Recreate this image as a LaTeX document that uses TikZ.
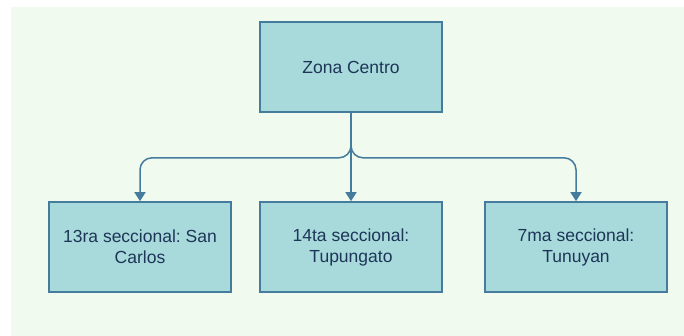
\documentclass[tikz,border=0pt]{standalone}
\usepackage{fontspec}
\setmainfont{Liberation Sans}
\usetikzlibrary{arrows.meta,positioning}

\definecolor{zonabg}{HTML}{F1FAEE}
\definecolor{zonafill}{HTML}{A8DADC}
\definecolor{zonaline}{HTML}{457B9D}
\definecolor{zonatext}{HTML}{1D3557}

\begin{document}
\frenchspacing
\begin{tikzpicture}[x=1pt,y=-1pt,>={Triangle[length=9pt,width=11pt]},
  font=\fontsize{17.5}{21}\selectfont,
  seccional/.style={draw=zonaline,line width=1.6pt,fill=zonafill,text=zonatext,
    minimum width=182pt,minimum height=90pt,align=center,inner sep=0pt},
  enlace/.style={->,draw=zonaline,line width=1.5pt,rounded corners=12pt}]
  \useasboundingbox (0,0) rectangle (684,336);
  \fill[zonabg] (11,7) rectangle (684,336);
  % jefatura y seccionales
  \node[seccional] (zona) at (351,67) {Zona Centro};
  \node[seccional] (sancarlos) at (140,247) {13ra seccional: San\\Carlos};
  \node[seccional] (tupungato) at (351,247) {14ta seccional:\\Tupungato};
  \node[seccional] (tunuyan) at (576,247) {7ma seccional:\\Tunuyan};
  % enlaces
  \draw[enlace] (zona.south) -- ++(0,45) -| (sancarlos.north);
  \draw[enlace] (zona.south) -- (tupungato.north);
  \draw[enlace] (zona.south) -- ++(0,45) -| (tunuyan.north);
\end{tikzpicture}
\end{document}
